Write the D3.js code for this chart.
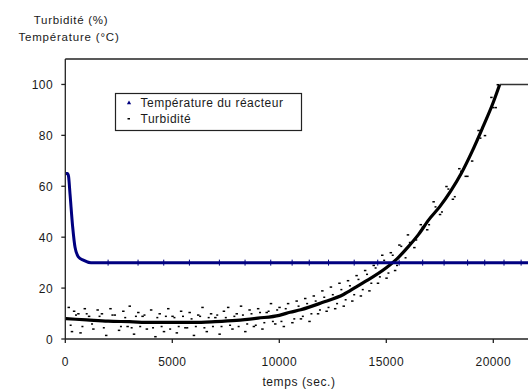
<!DOCTYPE html>
<html><head><meta charset="utf-8">
<script src="https://cdn.jsdelivr.net/npm/d3@7"></script>
<style>
html,body{margin:0;padding:0;background:#fff;}
svg{display:block;}
text{font-family:"Liberation Sans",Arial,sans-serif;fill:#1a1a1a;}
</style></head>
<body><svg id="c" width="528" height="390"></svg>
<script>
// ---- data ----
const xTicks = [0, 5000, 10000, 15000, 20000];
const yTicks = [0, 20, 40, 60, 80, 100];
const tempT = [0, 100, 150, 220, 345, 455, 610, 840, 1200, 22000];
const tempV = [65, 65, 64, 57, 44, 36, 32.3, 31, 30, 30];
const tempMarkT = [2000, 3400, 4600, 5800, 7200, 8400, 9600, 10600, 11400, 12300, 13500, 14600, 15600, 16700, 17700, 18800, 19600, 20500, 21300];
const turbT = [0, 1000, 2000, 3000, 4000, 5000, 6000, 7000, 8000, 9000, 10000, 10500, 11000, 12000, 13000, 13600, 14000, 15000, 15500, 16000, 16500, 17000, 17500, 18000, 18500, 19000, 19500, 20000, 20300, 22000];
const turbV = [8, 7.5, 7, 6.8, 6.5, 6.5, 6.5, 6.8, 7.3, 8.2, 9.3, 10.5, 11.5, 14.3, 17.5, 20.5, 22.5, 28, 31.5, 36, 41, 47, 52, 58, 65, 73.5, 83, 93, 100, 100];
// scattered turbidity readings (far from trend)
const scatT = [150,300,400,600,700,900,1100,1300,1500,1700,1900,2100,2300,2500,2700,2900,3000,3200,3400,3600,3800,4000,4200,4400,4600,4800,5000,5200,5400,5600,5800,6000,6200,6400,6600,6800,7000,7200,7400,7600,7800,8000,8200,8400,8600,8800,9000,9200,9400,9600,9800,10000,
  10200,10400,10600,10800,11000,11200,11400,11600,11800,12000,12200,12400,12600,12800,13000,13200,13400,13600,13800,14000,14200,14400,14600,14800,15000,15200,15400,15600,15800,16000,
  16300,16600,16900,17200,17500,17800,18100,18400,18700,19000,19300,19600,19900,20100,20200];
const scatV = [12.5,3,11,10,2.5,12,9,4,11.5,10,1.5,12,9.5,3.5,11,5,13,2,10.5,9,4,11.5,1,10,3,12,9,2.5,11,4.5,10.5,1.5,9.5,12.5,3,10,8.5,2,11,12.5,4,10,13,3,11.5,5,12,4,10.5,14,6,12.5,
  5,14,6.5,15,8,16,7,17,10,19,11,20.5,12,22,13,23,15,25,17,27,19,29,22,33,24,34,27,37,30,41,
  36,45,43,54,49,60,55,67,64,70,82,80,95,91,100];
// readings near the trend
const nearT = [250,500,800,1000,1250,1600,1800,2200,2600,2800,3100,3300,3500,3700,4100,4300,4500,4700,4900,5100,5300,5500,5700,5900,6100,6300,6500,6700,6900,7100,7300,7500,7700,7900,8100,8300,8500,8700,8900,9100,9300,9500,9700,9900,
  10100,10300,10700,10900,11100,11300,11500,11700,11900,12100,12300,12500,12700,12900,13100,13300,13500,13700,13900,14100,14300,14500,14700,14900,15100,15300,15500,15700,15900,
  16100,16400,16700,17000,17300,17600,17900,18200,18500,18800,19100,19400,19700,20000];
const nearV = [5.5,9.5,5,10,6,9,4.5,9.5,5,8.5,4.5,9,5,9.5,4.5,8.5,5,9,4,8.5,5,9,4.5,8,5,9,4.5,8.5,5,9.5,5,8.5,5.5,9,5,9.5,6,10,5.5,10.5,6.5,11,7,11.5,
  7,12,8,13,9,14,10,15,11.5,16.5,12.5,17.5,14,19.5,15.5,21,17.5,23.5,19.5,25.5,22,28,24.5,31,26,33,29,36.5,32,
  38,39,44,45,52,50,59,56,66,64,75,79,87,91];

// ---- layout ----
const svg = d3.select("#c");
const x = d3.scaleLinear().domain([0, 22000]).range([65.3, 65.3 + 22000 * 107 / 5000]);
const y = d3.scaleLinear().domain([0, 110]).range([339, 59]);
const right = 528;

svg.append("clipPath").attr("id","clip").append("rect")
  .attr("x", 66).attr("y", 55).attr("width", right - 66).attr("height", 290);

const g = svg.append("g").attr("clip-path","url(#clip)");

// turbidity scatter
const dash = (sel, data, w) => sel.selectAll(null).data(data).enter().append("rect")
  .attr("x", d => x(d[0]) - 1).attr("y", d => y(d[1]) - 0.5)
  .attr("width", w).attr("height", 1.5).attr("fill", "#000");
dash(g, scatT.map((t,i)=>[t,scatV[i]]), 2.5);
dash(g, nearT.map((t,i)=>[t,nearV[i]]), 2);

// turbidity trend
const turbPts = turbT.map((t,i)=>[t,turbV[i]]);
const satIdx = turbV.indexOf(100);
g.append("path").datum(turbPts.slice(0, satIdx + 1))
  .attr("d", d3.line().x(d=>x(d[0])).y(d=>y(d[1])).curve(d3.curveMonotoneX))
  .attr("fill","none").attr("stroke","#000").attr("stroke-width",3.2);
g.append("path").datum(turbPts.slice(satIdx))
  .attr("d", d3.line().x(d=>x(d[0])).y(d=>y(d[1])))
  .attr("fill","none").attr("stroke","#333").attr("stroke-width",1.5);

// temperature
const tempPts = tempT.map((t,i)=>[t,tempV[i]]);
g.append("path").datum(tempPts)
  .attr("d", d3.line().x(d=>x(d[0])).y(d=>y(d[1])).curve(d3.curveMonotoneX))
  .attr("fill","none").attr("stroke","#000080").attr("stroke-width",3);
g.selectAll("line.tm").data(tempMarkT).enter().append("line")
  .attr("x1", d=>x(d)).attr("x2", d=>x(d))
  .attr("y1", y(30) - 3).attr("y2", y(30) + 3)
  .attr("stroke","#000080").attr("stroke-width",1);

// axes
const ax = svg.append("g").attr("stroke","#222").attr("stroke-width",1.3);
ax.append("line").attr("x1", x(0)).attr("x2", x(0)).attr("y1", y(110)).attr("y2", y(0));
ax.append("line").attr("x1", x(0)).attr("x2", right).attr("y1", y(0)).attr("y2", y(0));
ax.append("line").attr("x1", x(0)).attr("x2", right).attr("y1", y(110)).attr("y2", y(110));
ax.selectAll("line.yt").data(yTicks).enter().append("line")
  .attr("x1", x(0) - 4).attr("x2", x(0)).attr("y1", d=>y(d)).attr("y2", d=>y(d));
ax.selectAll("line.xt").data(xTicks).enter().append("line")
  .attr("x1", d=>x(d)).attr("x2", d=>x(d)).attr("y1", y(0)).attr("y2", y(0) + 4);

svg.selectAll("text.yl").data(yTicks).enter().append("text")
  .attr("x", 53).attr("y", d=>y(d) + 4.5).attr("text-anchor","end")
  .attr("font-size", 12).attr("letter-spacing", 0.4).text(d=>d);
svg.selectAll("text.xl").data(xTicks).enter().append("text")
  .attr("x", d=>x(d)).attr("y", 366).attr("text-anchor","middle")
  .attr("font-size", 12).attr("letter-spacing", 0.4).text(d=>d);

svg.append("text").attr("x", 299).attr("y", 386).attr("text-anchor","middle")
  .attr("font-size", 12).attr("letter-spacing", 0.6).text("temps (sec.)");
svg.append("text").attr("x", 71).attr("y", 24).attr("text-anchor","middle")
  .attr("font-size", 11.5).attr("letter-spacing", 0.7).text("Turbidité (%)");
svg.append("text").attr("x", 69).attr("y", 41).attr("text-anchor","middle")
  .attr("font-size", 11.5).attr("letter-spacing", 0.8).text("Température (°C)");

// legend
const lg = svg.append("g");
lg.append("rect").attr("x", 115.5).attr("y", 93.5).attr("width", 186).attr("height", 37)
  .attr("fill","#fff").attr("stroke","#222").attr("stroke-width",1.2);
lg.append("path").attr("d", d3.symbol(d3.symbolTriangle, 8)()).attr("transform","translate(129,103)").attr("fill","#000080");
lg.append("rect").attr("x", 127.5).attr("y", 118).attr("width", 2.5).attr("height", 1.5).attr("fill","#000");
lg.append("text").attr("x", 140.5).attr("y", 107).attr("font-size", 12).attr("letter-spacing", 0.5).text("Température du réacteur");
lg.append("text").attr("x", 140.5).attr("y", 123).attr("font-size", 12).attr("letter-spacing", 0.5).text("Turbidité");
</script></body></html>
